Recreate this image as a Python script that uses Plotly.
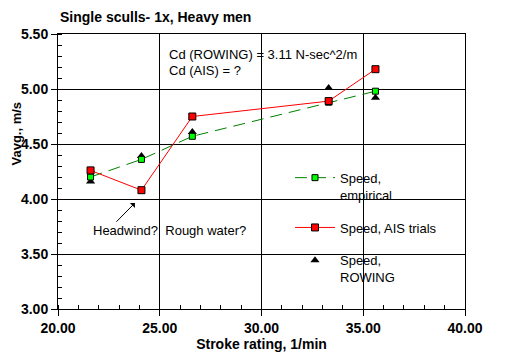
import plotly.graph_objects as go

stroke_rate = [21.6, 24.1, 26.6, 33.3, 35.6]
speed_empirical = [4.20, 4.36, 4.57, 4.88, 4.98]
speed_ais = [4.26, 4.08, 4.75, 4.89, 5.18]
speed_rowing = [4.16, 4.39, 4.61, 5.01, 4.92]

x_ticks = [20, 25, 30, 35, 40]
x_labels = ["20.00", "25.00", "30.00", "35.00", "40.00"]
y_ticks = [3.0, 3.5, 4.0, 4.5, 5.0, 5.5]
y_labels = ["3.00", "3.50", "4.00", "4.50", "5.00", "5.50"]

FONT = "Liberation Sans, Arial, sans-serif"

fig = go.Figure()
fig.add_trace(go.Scatter(
    x=stroke_rate, y=speed_rowing, mode="markers", name="Speed,<br>ROWING",
    marker=dict(symbol="triangle-up", size=8, color="black"),
    legendgroup="c", legendrank=3))
fig.add_trace(go.Scatter(
    x=stroke_rate, y=speed_empirical, mode="lines+markers", name="Speed,<br>empirical",
    line=dict(color="#008000", width=1, dash="12px,7px"),
    marker=dict(symbol="square", size=6, color="#00ff00", line=dict(color="black", width=1)),
    legendgroup="a", legendrank=1))
fig.add_trace(go.Scatter(
    x=stroke_rate, y=speed_ais, mode="lines+markers", name="Speed, AIS trials",
    line=dict(color="#ff0000", width=1),
    marker=dict(symbol="square", size=7, color="#ff0000", line=dict(color="black", width=1)),
    legendgroup="b", legendrank=2))

axis_common = dict(
    showline=True, linecolor="black", linewidth=1, mirror=True,
    showgrid=True, gridcolor="black", gridwidth=1, zeroline=False,
    ticks="outside", ticklen=6, tickcolor="black", automargin=False,
    tickfont=dict(family=FONT, size=14, color="black", weight="bold"),
)

fig.update_xaxes(range=[20, 40], tickvals=x_ticks, ticktext=x_labels,
                 minor=dict(ticks="inside", dtick=1, ticklen=4, tickcolor="black", showgrid=False),
                 title=dict(text="Stroke rating, 1/min", standoff=2,
                            font=dict(family=FONT, size=14, color="black", weight="bold")),
                 **axis_common)
fig.update_yaxes(range=[3.0, 5.5], tickvals=y_ticks, ticktext=y_labels,
                 minor=dict(ticks="inside", dtick=0.1, ticklen=4, tickcolor="black", showgrid=False),
                 **axis_common)

fig.add_annotation(text="Vavg., m/s", xref="paper", yref="paper", x=-0.102, y=0.64,
                   textangle=-90, showarrow=False, xanchor="center", yanchor="middle",
                   font=dict(family=FONT, size=13, color="black", weight="bold"))
fig.add_annotation(text="Single sculls- 1x, Heavy men", xref="paper", yref="paper",
                   x=0, y=1.062, xanchor="left", yanchor="middle", showarrow=False,
                   font=dict(family=FONT, size=14, color="black", weight="bold"))
fig.add_annotation(text="Cd (ROWING) = 3.11 N-sec^2/m", x=25.36, y=5.318,
                   xanchor="left", yanchor="middle", showarrow=False,
                   font=dict(family=FONT, size=13, color="black"))
fig.add_annotation(text="Cd (AIS) = ?", x=25.36, y=5.164,
                   xanchor="left", yanchor="middle", showarrow=False,
                   font=dict(family=FONT, size=13, color="black"))
fig.add_annotation(text="Headwind?  Rough water?", x=25.5, y=3.718,
                   xanchor="center", yanchor="middle", showarrow=False,
                   font=dict(family=FONT, size=13, color="black"))
fig.add_annotation(text="", x=23.78, y=3.964, ax=22.8, ay=3.78, axref="x", ayref="y",
                   showarrow=True, arrowhead=1, arrowsize=1.2, arrowwidth=1, arrowcolor="black")

fig.update_layout(
    width=503, height=347,
    margin=dict(l=50, r=46, t=26, b=46),
    paper_bgcolor="white", plot_bgcolor="white",
    font=dict(family=FONT, size=13, color="black"),
    showlegend=True,
    legend=dict(x=0.57, y=0.532, xanchor="left", yanchor="top",
                bgcolor="rgba(0,0,0,0)", borderwidth=0,
                font=dict(family=FONT, size=13, color="black"),
                valign="top", tracegroupgap=13, itemwidth=40),
)

fig.write_html("out.html")
